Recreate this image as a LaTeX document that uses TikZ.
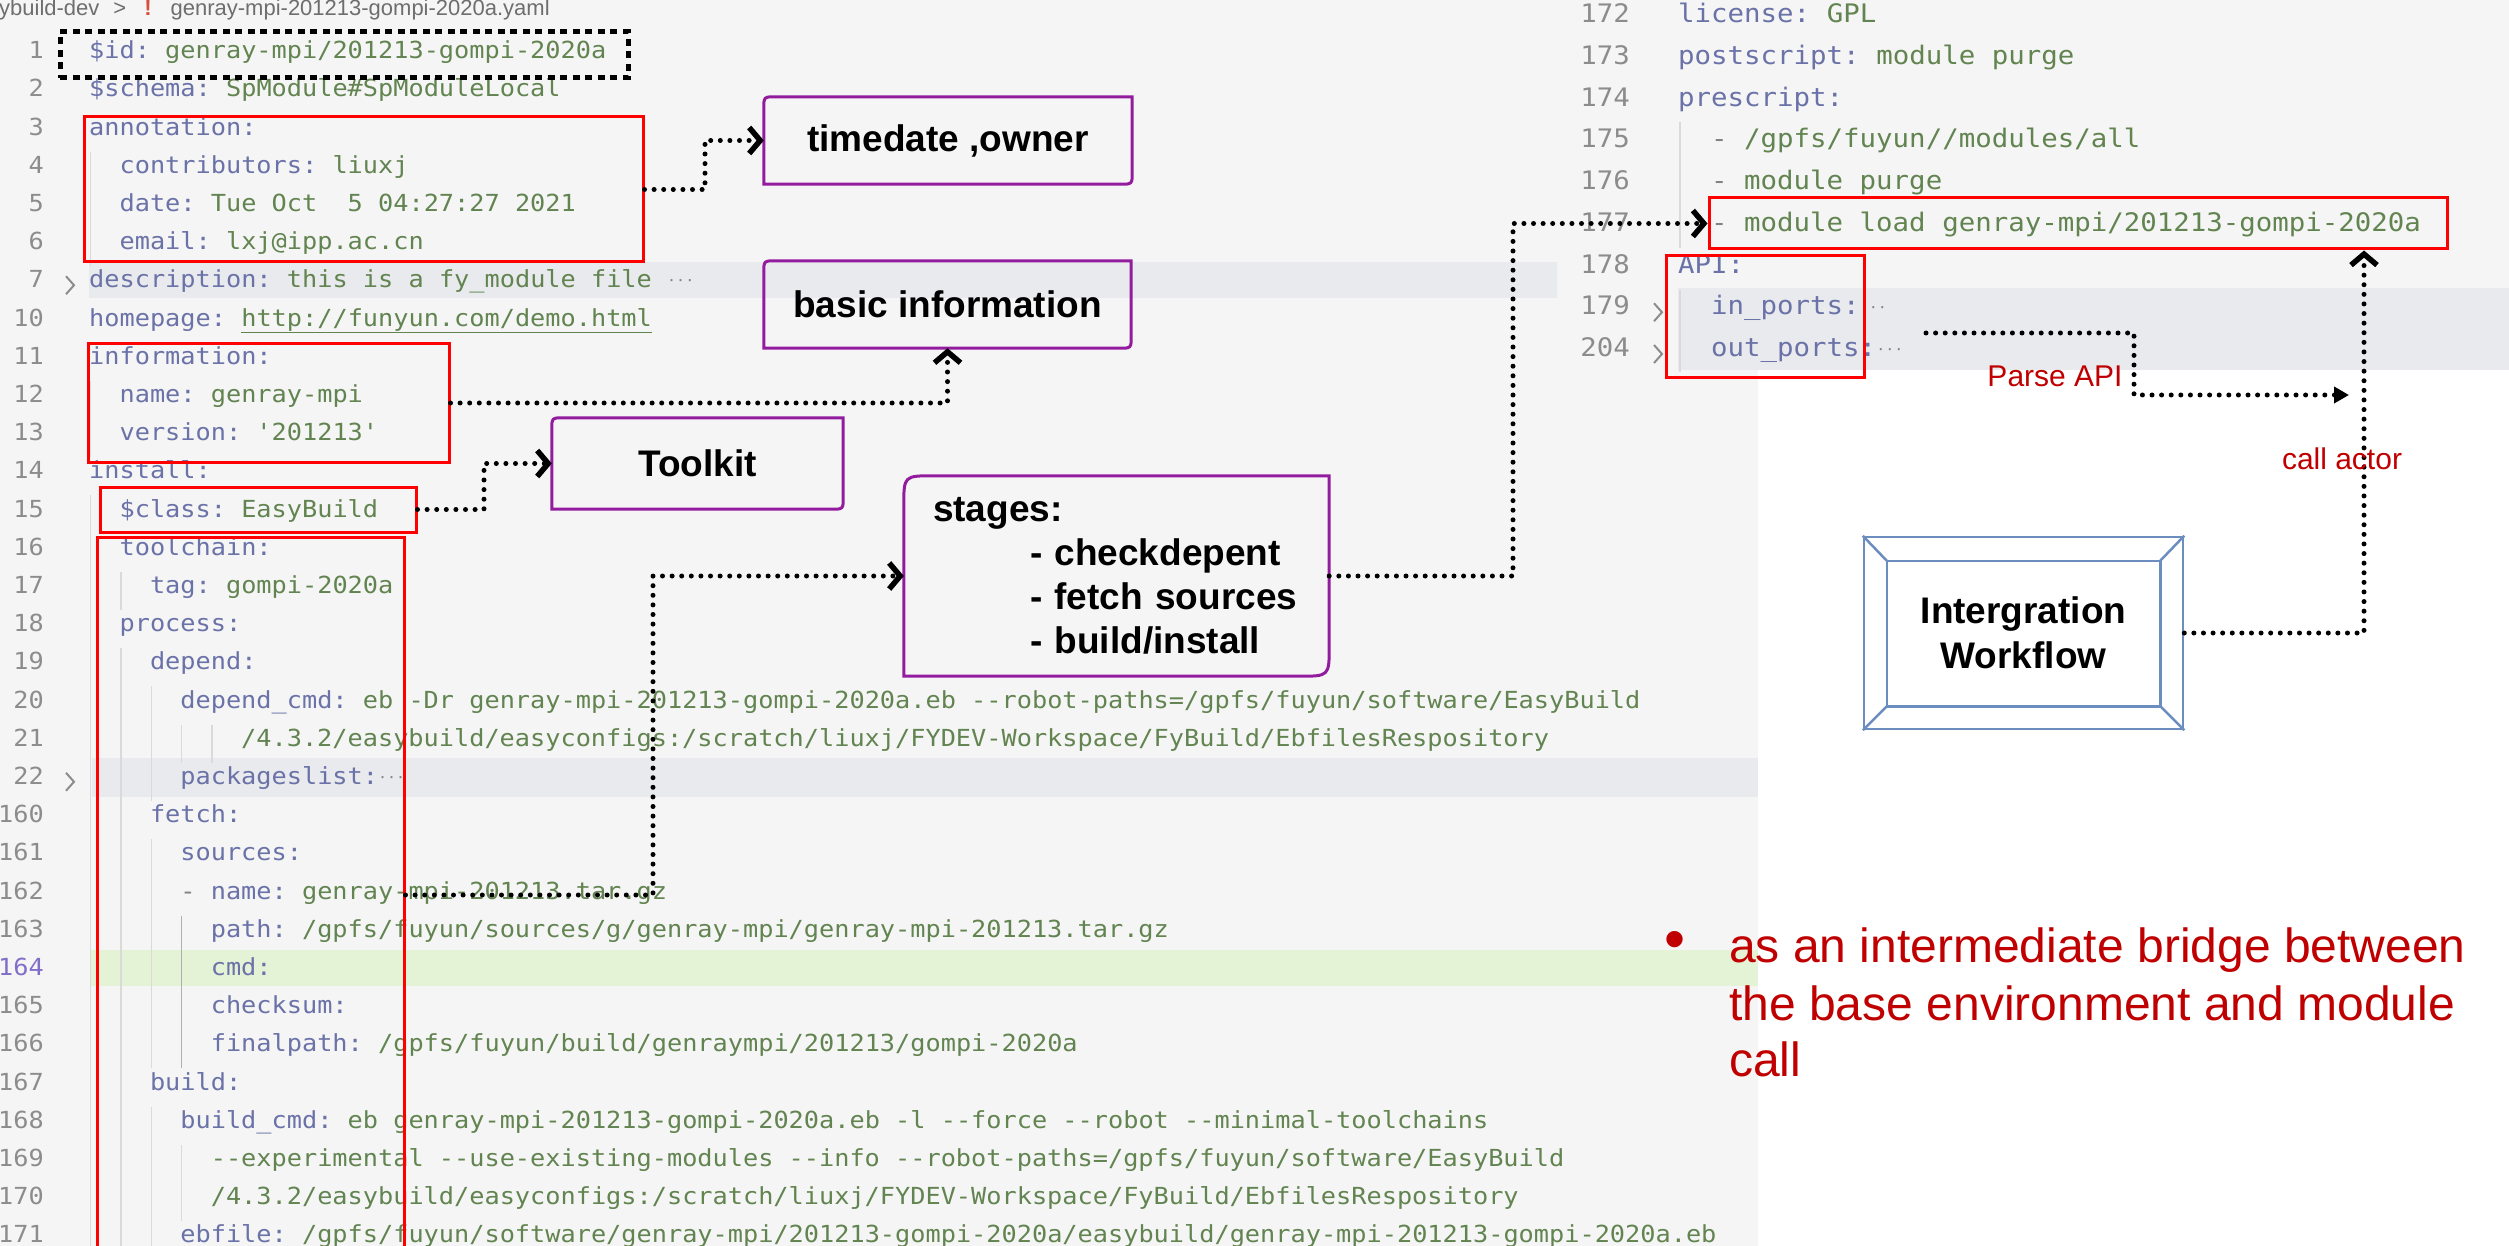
\documentclass[tikz,border=0pt]{standalone}
\usepackage{fontspec}
\setmainfont{Liberation Sans}
\setmonofont{DejaVu Sans Mono}[FakeStretch=1.075]
\usetikzlibrary{arrows.meta}
\definecolor{bgc}{RGB}{245,245,245}
\definecolor{bandc}{RGB}{233,234,237}
\definecolor{greenband}{RGB}{228,243,214}
\definecolor{keyc}{RGB}{106,114,168}
\definecolor{valc}{RGB}{98,132,80}
\definecolor{punc}{RGB}{130,130,130}
\definecolor{numc}{RGB}{140,140,140}
\definecolor{actnum}{RGB}{130,110,200}
\definecolor{guidec}{RGB}{218,218,218}
\definecolor{guideact}{RGB}{175,175,175}
\definecolor{boxred}{RGB}{255,0,0}
\definecolor{txtred}{RGB}{192,0,0}
\definecolor{pur}{RGB}{146,27,158}
\definecolor{wfblue}{RGB}{108,142,191}
\definecolor{hdrc}{RGB}{110,110,110}
\definecolor{exclc}{RGB}{214,78,60}
\newcommand\yk[1]{\textcolor{keyc}{#1}}
\newcommand\yv[1]{\textcolor{valc}{#1}}
\newcommand\yp[1]{\textcolor{punc}{#1}}
\newcommand\ydots{\textcolor{punc}{\fontsize{14}{14}\selectfont\raisebox{2pt}{···}}}
\newcommand\codefnt{\ttfamily\fontsize{23.5}{28}\selectfont}
\newcommand\rcodefnt{\ttfamily\fontsize{25.5}{30}\selectfont}
\newcommand\labfnt{\bfseries\fontsize{37}{44}\selectfont}
\newcommand\codeline[5]{%
  \node[lnum] (#1n) at (44,{56+38.2*#4}) {#2};
  \node[code] (#1) at ({89+15.2*#3},{56+38.2*#4}) {#5};}
\newcommand\rcodeline[5]{%
  \node[rnum] (#1n) at (1630,{20+41.75*#4}) {#2};
  \node[rcode] (#1) at ({1678+16.5*#3},{20+41.75*#4}) {#5};}
\newcommand\guide[4][guidec]{\draw[guide,draw=#1] ({90.5+15.2*#2},{37+38.2*#3}) -- ({90.5+15.2*#2},{75+38.2*#4});}
\newcommand\rdbox[2]{\draw[pline] (#1.south west) -- ([yshift=-#2pt]#1.north west) .. controls (#1.north west) .. ([xshift=#2pt]#1.north west) -- (#1.north east) -- ([yshift=#2pt]#1.south east) .. controls (#1.south east) .. ([xshift=-#2pt]#1.south east) -- cycle;}
\tikzset{
 code/.style={anchor=mid west, inner sep=0pt, font=\codefnt},
 lnum/.style={anchor=mid east, inner sep=0pt, font=\codefnt, text=numc},
 rcode/.style={anchor=mid west, inner sep=0pt, font=\rcodefnt},
 rnum/.style={anchor=mid east, inner sep=0pt, font=\rcodefnt, text=numc},
 guide/.style={line width=1.5pt},
 fold/.style={draw=numc, line width=2pt},
 redbox/.style={draw=boxred, line width=3pt, inner sep=0pt},
 pbox/.style={inner sep=0pt, font=\labfnt, align=center},
 pline/.style={draw=pur, line width=3pt},
 conn/.style={draw=black, line width=5pt, dash pattern=on 0pt off 9.6pt, line cap=round},
 chev/.style={-{Straight Barb[length=11pt,width=26pt,line width=5.5pt]}},
 tri/.style={-{Triangle[length=15pt,width=16pt]}},
 redlab/.style={text=txtred, inner sep=0pt, font=\fontsize{30}{36}\selectfont},
 btxt/.style={text=txtred, inner sep=0pt, anchor=base west, font=\fontsize{48}{57}\selectfont},
 idbox/.style={draw=black, line width=5pt, dash pattern=on 7pt off 5.5pt, inner sep=0pt},
 wfline/.style={draw=wfblue, line width=2.5pt},
}
\begin{document}
\begin{tikzpicture}[x=1pt,y=-1pt]
\useasboundingbox (0,0) rectangle (2509,1246);
\clip (0,0) rectangle (2509,1246);
% backgrounds
\fill[white] (0,0) rectangle (2509,1246);
\fill[bgc] (0,0) rectangle (1758,1246);
\fill[bgc] (1758,0) rectangle (2509,370);
\fill[bandc] (89,262) rectangle (1557,298);
\fill[bandc] (92,758) rectangle (1758,797);
\fill[greenband] (90,950) rectangle (1758,986);
\fill[bandc] (1678,288) rectangle (2509,370);
% indent guides
\guide{0}{3}{5}
\guide{0}{9}{10}
\guide{0}{12}{31}
\guide{2}{14}{14}
\guide{2}{16}{31}
\guide{4}{17}{19}
\guide{4}{21}{26}
\guide{4}{28}{31}
\guide{6}{18}{18}
\guide[guideact]{6}{23}{26}
\guide{6}{29}{30}
\guide{8}{18}{18}
\draw[guide,draw=guidec] (1680,122) -- (1680,248);
\draw[guide,draw=guidec] (1680,290) -- (1680,372);
% header
\node[anchor=mid west, inner sep=0pt, text=hdrc, font=\fontsize{22}{26}\selectfont] (hdr) at (-1,13)
  {ybuild-dev\hspace{14pt}>\hspace{18pt}\textcolor{exclc}{\bfseries !}\hspace{19pt}genray-mpi-201213-gompi-2020a.yaml};
% left code
\codeline{l1}{1}{0}{0}{\yk{\$id:} \yv{genray-mpi/201213-gompi-2020a}}
\codeline{l2}{2}{0}{1}{\yk{\$schema:} \yv{SpModule\#SpModuleLocal}}
\codeline{l3}{3}{0}{2}{\yk{annotation:}}
\codeline{l4}{4}{2}{3}{\yk{contributors:} \yv{liuxj}}
\codeline{l5}{5}{2}{4}{\yk{date:} \yv{Tue Oct\ \ 5 04:27:27 2021}}
\codeline{l6}{6}{2}{5}{\yk{email:} \yv{lxj@ipp.ac.cn}}
\codeline{l7}{7}{0}{6}{\yk{description:} \yv{this is a fy\_module file} \ydots}
\codeline{l10}{10}{0}{7}{\yk{homepage:} \yv{\underline{http://funyun.com/demo.html}}}
\codeline{l11}{11}{0}{8}{\yk{information:}}
\codeline{l12}{12}{2}{9}{\yk{name:} \yv{genray-mpi}}
\codeline{l13}{13}{2}{10}{\yk{version:} \yv{'201213'}}
\codeline{l14}{14}{0}{11}{\yk{install:}}
\codeline{l15}{15}{2}{12}{\yk{\$class:} \yv{EasyBuild}}
\codeline{l16}{16}{2}{13}{\yk{toolchain:}}
\codeline{l17}{17}{4}{14}{\yk{tag:} \yv{gompi-2020a}}
\codeline{l18}{18}{2}{15}{\yk{process:}}
\codeline{l19}{19}{4}{16}{\yk{depend:}}
\codeline{l20}{20}{6}{17}{\yk{depend\_cmd:} \yv{eb -Dr genray-mpi-201213-gompi-2020a.eb --robot-paths=/gpfs/fuyun/software/EasyBuild}}
\codeline{l21}{21}{10}{18}{\yv{/4.3.2/easybuild/easyconfigs:/scratch/liuxj/FYDEV-Workspace/FyBuild/EbfilesRespository}}
\codeline{l22}{22}{6}{19}{\yk{packageslist:}\ydots}
\codeline{l160}{160}{4}{20}{\yk{fetch:}}
\codeline{l161}{161}{6}{21}{\yk{sources:}}
\codeline{l162}{162}{6}{22}{\yp{-} \yk{name:} \yv{genray-mpi-201213.tar.gz}}
\codeline{l163}{163}{8}{23}{\yk{path:} \yv{/gpfs/fuyun/sources/g/genray-mpi/genray-mpi-201213.tar.gz}}
\node[lnum,text=actnum] (l164n) at (44,{56+38.2*24}) {164};
\node[code] (l164) at ({89+15.2*8},{56+38.2*24}) {\yk{cmd:}};
\codeline{l165}{165}{8}{25}{\yk{checksum:}}
\codeline{l166}{166}{8}{26}{\yk{finalpath:} \yv{/gpfs/fuyun/build/genraympi/201213/gompi-2020a}}
\codeline{l167}{167}{4}{27}{\yk{build:}}
\codeline{l168}{168}{6}{28}{\yk{build\_cmd:} \yv{eb genray-mpi-201213-gompi-2020a.eb -l --force --robot --minimal-toolchains}}
\codeline{l169}{169}{8}{29}{\yv{--experimental --use-existing-modules --info --robot-paths=/gpfs/fuyun/software/EasyBuild}}
\codeline{l170}{170}{8}{30}{\yv{/4.3.2/easybuild/easyconfigs:/scratch/liuxj/FYDEV-Workspace/FyBuild/EbfilesRespository}}
\codeline{l171}{171}{6}{31}{\yk{ebfile:} \yv{/gpfs/fuyun/software/genray-mpi/201213-gompi-2020a/easybuild/genray-mpi-201213-gompi-2020a.eb}}
% fold chevrons
\draw[fold] (66,{56+38.2*6-9}) -- (74,{56+38.2*6}) -- (66,{56+38.2*6+9});
\draw[fold] (66,{56+38.2*19-9}) -- (74,{56+38.2*19}) -- (66,{56+38.2*19+9});
\draw[fold] (1654,{20+41.75*7-9}) -- (1662,{20+41.75*7}) -- (1654,{20+41.75*7+9});
\draw[fold] (1654,{20+41.75*8-9}) -- (1662,{20+41.75*8}) -- (1654,{20+41.75*8+9});
% right code
\rcodeline{r172}{172}{0}{0}{\yk{license:} \yv{GPL}}
\rcodeline{r173}{173}{0}{1}{\yk{postscript:} \yv{module purge}}
\rcodeline{r174}{174}{0}{2}{\yk{prescript:}}
\rcodeline{r175}{175}{2}{3}{\yp{-} \yv{/gpfs/fuyun//modules/all}}
\rcodeline{r176}{176}{2}{4}{\yp{-} \yv{module purge}}
\rcodeline{r177}{177}{2}{5}{\yp{-} \yv{module load genray-mpi/201213-gompi-2020a}}
\rcodeline{r178}{178}{0}{6}{\yk{API:}}
\rcodeline{r179}{179}{2}{7}{\yk{in\_ports:}\ydots}
\rcodeline{r204}{204}{2}{8}{\yk{out\_ports:}\ydots}
% dotted id box
\node[idbox, minimum width=568pt, minimum height=46pt] (idb) at (344,55) {};
% red boxes
\node[redbox, minimum width=559pt, minimum height=145pt] (ann) at (363.5,189.5) {};
\node[redbox, minimum width=361pt, minimum height=118pt] (info) at (268.5,403) {};
\node[redbox, minimum width=316pt, minimum height=45pt] (cls) at (258,509.5) {};
\node[redbox, minimum width=307pt, minimum height=743pt] (big) at (250.5,908.5) {};
\node[redbox, minimum width=738pt, minimum height=51pt] (mload) at (2078,223.5) {};
\node[redbox, minimum width=198pt, minimum height=122pt] (api) at (1765,317) {};
% purple boxes
\node[pbox, minimum width=368pt, minimum height=87pt] (time) at (948,140.5) {timedate ,owner};
\node[pbox, minimum width=367pt, minimum height=87pt] (basic) at (947.5,304.5) {basic information};
\node[pbox, minimum width=291pt, minimum height=91pt] (toolkit) at (697.5,463.5) {Toolkit};
\node[pbox, minimum width=425pt, minimum height=200pt, align=left, text width=367pt, inner xsep=29pt] (stages) at (1116.5,576)
  {stages:\\\hspace*{97pt}- checkdepent\\\hspace*{97pt}- fetch sources\\\hspace*{97pt}- build/install};
\rdbox{time}{12}
\rdbox{basic}{12}
\rdbox{toolkit}{12}
\rdbox{stages}{30}
% workflow box
\node[wfline, minimum width=319pt, minimum height=192pt, inner sep=0pt, align=center,
  font=\bfseries\fontsize{37}{45}\selectfont] (wf) at (2023.5,633) {Intergration\\Workflow};
\draw[wfline] ([xshift=24pt,yshift=-25pt]wf.north west) rectangle ([xshift=-24pt,yshift=24pt]wf.south east);
\draw[wfline] (wf.north west) -- ++(24,25);
\draw[wfline] (wf.north east) -- ++(-24,25);
\draw[wfline] (wf.south west) -- ++(24,-24);
\draw[wfline] (wf.south east) -- ++(-24,-24);
% connector helper coordinates
\coordinate (c1) at (705,160);
\coordinate (c3) at (484,490);
\coordinate (c4a) at (0,895);
\coordinate (c4) at (653,700);
\coordinate (c5) at (1513,400);
\coordinate (opS) at (1926,333);
\coordinate (c6) at (2134,360);
\coordinate (pa) at (2349,395);
\coordinate (cax) at (2364,0);
% connectors
\draw[conn,chev] (ann.east) -| (c1) |- (time.west);
\draw[conn,chev] (info.east) -| (basic.south);
\draw[conn,chev] (cls.east) -| (c3) |- (toolkit.west);
\draw[conn,chev] (big.east |- c4a) -| (c4) |- (stages.west);
\draw[conn,chev] (stages.east) -| (c5) |- (mload.west);
\draw[conn,tri] (opS) -| (c6) |- (pa);
\draw[conn,chev] (wf.east) -| (cax |- mload.south);
% labels
\node[redlab] (parse) at (2055,376) {Parse API};
\node[redlab] (callact) at (2342,459) {call actor};
\node[text=txtred, inner sep=0pt, font=\fontsize{60}{60}\selectfont] (bul) at (1675,945) {•};
\node[btxt] (b1) at (1729,962) {as an intermediate bridge between};
\node[btxt] (b2) at (1729,1020) {the base environment and module};
\node[btxt] (b3) at (1729,1076) {call};
\end{tikzpicture}
\end{document}
